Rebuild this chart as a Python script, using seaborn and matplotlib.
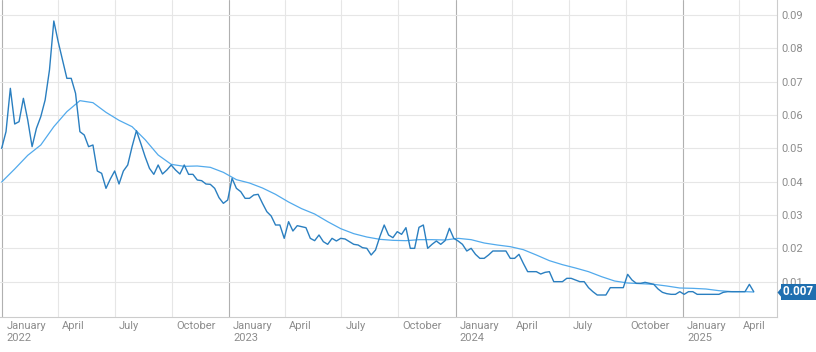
import pandas as pd
import matplotlib
matplotlib.use('Agg')
import matplotlib.pyplot as plt
from matplotlib.transforms import ScaledTranslation
import seaborn as sns

# weekly series, first week ending 2021-12-31
start_date = '2021-12-31'
weekly_yield = [
    0.050, 0.055, 0.068, 0.0573, 0.058, 0.065, 0.0585, 0.0505, 0.056, 0.0595,
    0.0645, 0.0735, 0.0882, 0.082, 0.0765, 0.071, 0.071, 0.0665, 0.055, 0.054,
    0.0505, 0.051, 0.0432, 0.0425, 0.038, 0.0408, 0.0432, 0.0393, 0.0432, 0.045,
    0.0505, 0.0553, 0.0515, 0.0475, 0.044, 0.0422, 0.045, 0.0423, 0.0435, 0.045,
    0.0435, 0.0423, 0.045, 0.0422, 0.0422, 0.0405, 0.0403, 0.0393, 0.0392, 0.038,
    0.0352, 0.0335, 0.0345, 0.041, 0.038, 0.037, 0.035, 0.035, 0.036, 0.0362,
    0.0335, 0.031, 0.0297, 0.027, 0.027, 0.023, 0.028, 0.0252, 0.0268, 0.0265,
    0.0262, 0.023, 0.0223, 0.024, 0.022, 0.0212, 0.023, 0.0222, 0.023, 0.0228,
    0.022, 0.0212, 0.021, 0.0202, 0.020, 0.018, 0.0195, 0.0235, 0.027, 0.024,
    0.0232, 0.025, 0.0242, 0.0262, 0.020, 0.020, 0.0263, 0.027, 0.020, 0.0212,
    0.0222, 0.0212, 0.0223, 0.026, 0.023, 0.0222, 0.0212, 0.0192, 0.020, 0.0182,
    0.017, 0.017, 0.018, 0.0192, 0.0192, 0.0192, 0.0192, 0.017, 0.017, 0.0182,
    0.0155, 0.013, 0.013, 0.013, 0.0123, 0.0128, 0.013, 0.010, 0.010, 0.010,
    0.011, 0.011, 0.0105, 0.010, 0.010, 0.0082, 0.007, 0.006, 0.006, 0.006,
    0.0082, 0.0082, 0.0082, 0.0082, 0.0122, 0.0105, 0.0095, 0.0095, 0.0098, 0.0095,
    0.0092, 0.0078, 0.0068, 0.0064, 0.0062, 0.0062, 0.007, 0.0062, 0.007, 0.007,
    0.0062, 0.0062, 0.0062, 0.0062, 0.0062, 0.0062, 0.0068, 0.007, 0.007, 0.007,
    0.007, 0.007, 0.0092, 0.007,
]

# moving average, read every third week plus the last week
moving_avg = [
    0.0399, 0.0438, 0.0479, 0.051, 0.0565, 0.061, 0.0643, 0.0637, 0.0608, 0.0584,
    0.0565, 0.0526, 0.048, 0.0452, 0.0446, 0.0447, 0.0443, 0.0428, 0.0406, 0.0396,
    0.0381, 0.0362, 0.0339, 0.0319, 0.0303, 0.028, 0.0259, 0.0244, 0.0234, 0.0227,
    0.0224, 0.0223, 0.0226, 0.0226, 0.0225, 0.023, 0.0226, 0.0216, 0.021, 0.0205,
    0.0196, 0.018, 0.0163, 0.0151, 0.0141, 0.013, 0.0115, 0.0102, 0.0096, 0.0094,
    0.0092, 0.0087, 0.0081, 0.008, 0.0078, 0.0073, 0.007, 0.007, 0.0069,
]

y_ticks = [0.01, 0.02, 0.03, 0.04, 0.05, 0.06, 0.07, 0.08, 0.09]

dark_blue = '#2a7fc0'
light_blue = '#52aaec'
badge_color = '#1f6fb0'
label_color = '#8c8c8c'


def build_frames():
    dates = pd.date_range(start_date, periods=len(weekly_yield), freq='7D')
    weekly = pd.DataFrame({'date': dates, 'value': weekly_yield})
    idx = list(range(0, len(dates), 3)) + [len(dates) - 1]
    ma = pd.DataFrame({'date': dates[idx], 'value': moving_avg})
    return weekly, ma


def draw_chart(weekly, ma):
    sns.set_theme(style='white')
    plt.rcParams['font.family'] = ['Roboto', 'DejaVu Sans']

    fig = plt.figure(figsize=(8.16, 3.52), dpi=100)
    ax = fig.add_axes([0, 1 - 317 / 352, 777 / 816, 317 / 352])

    sns.lineplot(data=ma, x='date', y='value', ax=ax, color=light_blue, linewidth=0.9)
    sns.lineplot(data=weekly, x='date', y='value', ax=ax, color=dark_blue, linewidth=1.0)

    ax.set_xlim(pd.Timestamp('2021-12-28 08:00'), pd.Timestamp('2025-06-01 12:00'))
    ax.set_ylim(-0.0006, 0.0945)
    ax.set_xlabel('')
    ax.set_ylabel('')

    # y axis on the right
    ax.yaxis.tick_right()
    ax.set_yticks(y_ticks)
    ax.set_yticklabels([f'{t:.2f}' for t in y_ticks])
    ax.tick_params(axis='y', length=0, pad=3, labelsize=8, labelcolor=label_color)

    # quarter ticks, year under January
    quarters = pd.date_range('2022-01-01', '2025-04-01', freq='QS')
    ax.set_xticks(quarters.to_pydatetime())
    ax.set_xticklabels([d.strftime('%B') + (f'\n{d.year}' if d.month == 1 else '') for d in quarters],
                       ha='left')
    ax.tick_params(axis='x', length=4.5, width=0.8, pad=-1.5, color='#dddddd',
                   labelsize=8, labelcolor=label_color)
    shift = ScaledTranslation(3 / 72, 0, fig.dpi_scale_trans)
    for lab in ax.get_xticklabels():
        lab.set_transform(lab.get_transform() + shift)

    ax.grid(True, color='#e6e6e6', linewidth=0.8)
    ax.set_axisbelow(True)
    for d, tick in zip(quarters, ax.xaxis.get_major_ticks()):
        if d.month == 1:
            tick.gridline.set_color('#b0b0b0')
            tick.tick1line.set_color('#b0b0b0')

    for side in ['left', 'top']:
        ax.spines[side].set_visible(False)
    for side in ['bottom', 'right']:
        ax.spines[side].set_color('#cccccc')
        ax.spines[side].set_linewidth(0.8)

    # last value badge
    last = weekly_yield[-1]
    ax.plot([1.0], [last], marker=[(0, 0), (1, -1.2), (1, 1.2)], markersize=8.6,
            markeredgewidth=0, color=badge_color, transform=ax.get_yaxis_transform(),
            clip_on=False, zorder=5)
    ax.annotate(f'{last:.3f} ', xy=(1.0, last), xycoords=ax.get_yaxis_transform(),
                xytext=(4.0, 0), textcoords='offset points', ha='left', va='center',
                fontsize=8.5, fontweight='bold', color='white',
                bbox=dict(boxstyle='square,pad=0.12', fc=badge_color, ec='none'),
                annotation_clip=False, zorder=6)

    fig.savefig('out.png', dpi=100)


if __name__ == '__main__':
    weekly_df, ma_df = build_frames()
    draw_chart(weekly_df, ma_df)
